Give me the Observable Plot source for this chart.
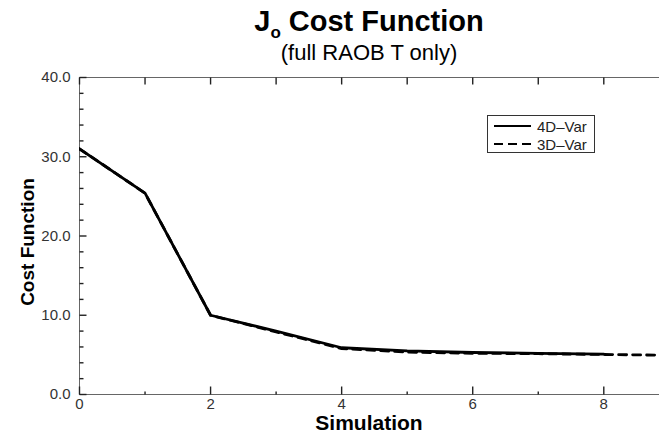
<!DOCTYPE html>
<html>
<head>
<meta charset="utf-8">
<script src="https://cdn.jsdelivr.net/npm/d3@7"></script>
<script src="https://cdn.jsdelivr.net/npm/@observablehq/plot@0.6"></script>
<style>
  body { margin: 0; background: #fff; overflow: hidden; font-family: "Liberation Sans", Arial, sans-serif; }
  #wrap { position: relative; width: 659px; height: 434px; background: #fff; overflow: hidden; }
  #chart { position: absolute; left: 0; top: 62px; }
  #chart svg { background: transparent !important; }
  #chart g[aria-label="x-axis tick label"], #chart g[aria-label="y-axis tick label"] { font-size: 15px; }
  #title { position: absolute; left: 79px; right: 0; top: 7px; text-align: center; font-weight: bold; font-size: 29px; color: #000; line-height: 1; white-space: nowrap; }
  #title sub { font-size: 17px; vertical-align: -7px; }
  #subtitle { position: absolute; left: 79px; right: 0; top: 42px; text-align: center; font-size: 22px; color: #000; line-height: 1; white-space: nowrap; }
  #ytitle { position: absolute; left: 27px; top: 242px; transform: translate(-50%, -50%) rotate(-90deg); font-weight: bold; font-size: 19px; line-height: 1; white-space: nowrap; color: #000; }
  #xtitle { position: absolute; left: 79px; right: 0; top: 412px; text-align: center; font-weight: bold; font-size: 21px; line-height: 1; white-space: nowrap; color: #000; }
  #legend { position: absolute; left: 487px; top: 115px; width: 106px; height: 36px; border: 1px solid #333; background: #fff; font-size: 15px; color: #222; }
  #legend .row { position: absolute; left: 6px; height: 16px; display: flex; align-items: center; white-space: nowrap; }
  #legend svg { margin-right: 6px; }
</style>
</head>
<body>
<div id="wrap">
  <div id="chart"></div>
  <div id="title">J<sub>o</sub> Cost Function</div>
  <div id="subtitle">(full RAOB T only)</div>
  <div id="ytitle">Cost Function</div>
  <div id="xtitle">Simulation</div>
  <div id="legend"></div>
</div>
<script>
// Simulation index and the observation cost Jo for each scheme
const simulation = [0, 1, 2, 3, 4, 5, 6, 7, 8, 9];
const cost4DVar = [31.0, 25.4, 10.0, 8.0, 5.9, 5.5, 5.3, 5.2, 5.1];
const cost3DVar = [31.0, 25.4, 10.0, 7.9, 5.8, 5.35, 5.2, 5.15, 5.05, 4.95];

// Axis ticks
const xMajor = [0, 2, 4, 6, 8];
const xMinor = [1, 3, 5, 7];
const xTop = [0, 1, 2, 3, 4, 5, 6, 7, 8];
const yMajor = [0, 10, 20, 30, 40];
const yMinor = [2, 4, 6, 8, 12, 14, 16, 18, 22, 24, 26, 28, 32, 34, 36, 38];

const series = [
  {name: "4D\u2013Var", dash: null},
  {name: "3D\u2013Var", dash: "9,5"}
];

const rows4 = cost4DVar.map((v, i) => ({sim: simulation[i], cost: v}));
const rows3 = cost3DVar.map((v, i) => ({sim: simulation[i], cost: v}));

const W = 659, H = 372, mt = 15, mb = 40, ml = 79, mr = 0;
const xDomain = [0, 8.85], yDomain = [0, 40];
const frameW = W - ml - mr, frameH = H - mt - mb;
// convert a tick length in pixels to data units along each axis
const xLen = px => px * (xDomain[1] - xDomain[0]) / frameW;
const yLen = px => px * (yDomain[1] - yDomain[0]) / frameH;
const axisColor = "#666", tickColor = "#222";

const tickRows = (values, len) => values.map(v => ({v, len}));

const chart = Plot.plot({
  width: W,
  height: H,
  marginTop: mt,
  marginBottom: mb,
  marginLeft: ml,
  marginRight: mr,
  style: {fontFamily: "Liberation Sans, Arial, sans-serif", fontSize: "15px", color: "#333", background: "transparent", overflow: "hidden"},
  x: {domain: xDomain},
  y: {domain: yDomain},
  marks: [
    // frame: bottom, top and left edges
    Plot.ruleY([yDomain[0]], {stroke: axisColor}),
    Plot.ruleY([yDomain[1]], {stroke: axisColor}),
    Plot.ruleX([xDomain[0]], {stroke: axisColor}),
    // inward ticks
    Plot.link(tickRows(xMajor, 8), {x1: "v", x2: "v", y1: () => yDomain[0], y2: d => yDomain[0] + yLen(d.len), stroke: tickColor, strokeWidth: 1.4}),
    Plot.link(tickRows(xMinor, 3), {x1: "v", x2: "v", y1: () => yDomain[0], y2: d => yDomain[0] + yLen(d.len), stroke: tickColor, strokeWidth: 1.4}),
    Plot.link(tickRows(xTop, 7), {x1: "v", x2: "v", y1: () => yDomain[1], y2: d => yDomain[1] - yLen(d.len), stroke: tickColor, strokeWidth: 1.4}),
    Plot.link(tickRows(yMajor, 7), {y1: "v", y2: "v", x1: () => xDomain[0], x2: d => xDomain[0] + xLen(d.len), stroke: tickColor, strokeWidth: 1.4}),
    Plot.link(tickRows(yMinor, 4), {y1: "v", y2: "v", x1: () => xDomain[0], x2: d => xDomain[0] + xLen(d.len), stroke: tickColor, strokeWidth: 1.4}),
    // tick labels
    Plot.axisX({ticks: xMajor, tickSize: 0, tickPadding: 4, tickFormat: d => String(d), label: null, fontSize: 15, fill: "#333"}),
    Plot.axisY({ticks: yMajor, tickSize: 0, tickPadding: 9, tickFormat: d => d.toFixed(1), label: null, fontSize: 15, fill: "#333"}),
    // series
    Plot.line(rows3, {x: "sim", y: "cost", stroke: "black", strokeWidth: 2.8, strokeDasharray: "8,6", clip: true}),
    Plot.line(rows4, {x: "sim", y: "cost", stroke: "black", strokeWidth: 2.8, clip: true})
  ]
});
document.getElementById("chart").append(chart);

// legend
const legend = document.getElementById("legend");
series.forEach((s, i) => {
  const row = document.createElement("div");
  row.className = "row";
  row.style.top = (2 + i * 18) + "px";
  row.innerHTML = `<svg width="37" height="4"><line x1="0" y1="2" x2="37" y2="2" stroke="black" stroke-width="2" ${s.dash ? `stroke-dasharray="${s.dash}"` : ""}/></svg><span>${s.name}</span>`;
  legend.append(row);
});
</script>
</body>
</html>
